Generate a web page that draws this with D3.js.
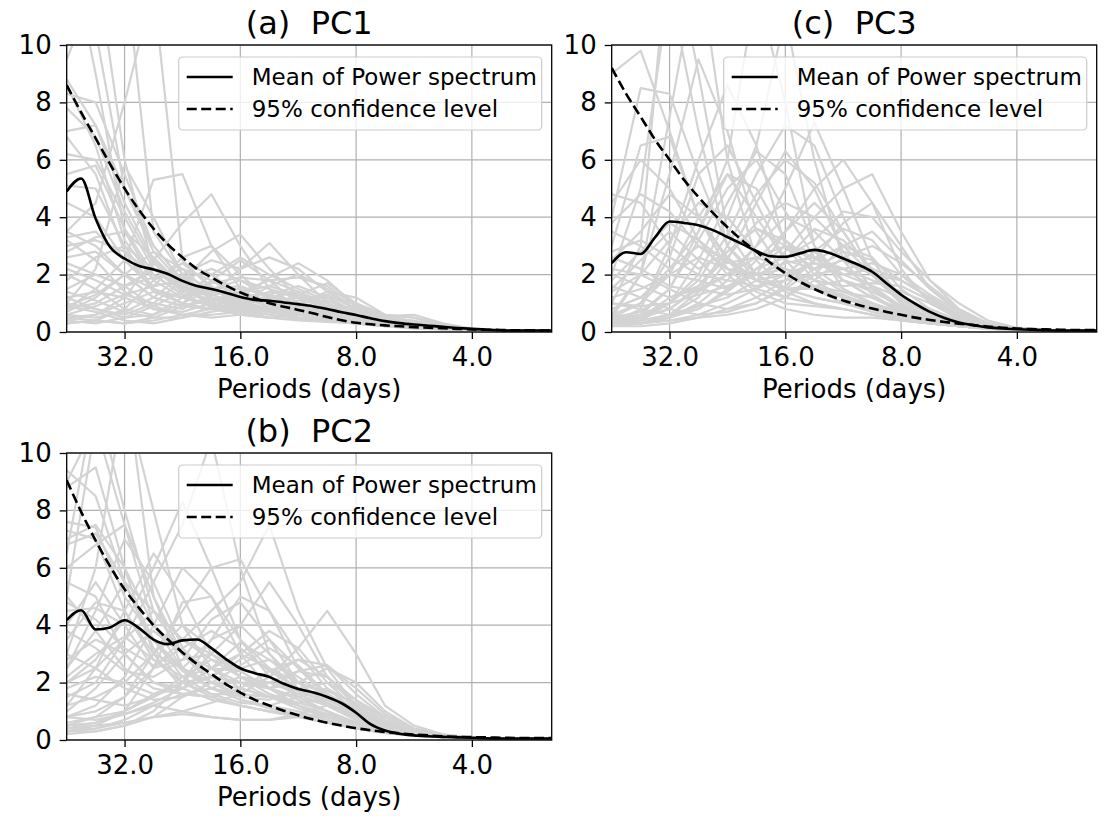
<!DOCTYPE html>
<html>
<head>
<meta charset="utf-8">
<script src="https://cdn.jsdelivr.net/npm/d3@7"></script>
<style>
  body { margin: 0; background: #fff; }
  text { font-family: "DejaVu Sans", sans-serif; fill: #000; }
</style>
</head>
<body>
<svg id="chart" width="1105" height="816"></svg>
<script>
// periods (days) of the smooth lines, eighth of an octave apart
var periodsFine = [45.25, 41.5, 38.05, 34.9, 32, 29.34, 26.91, 24.68, 22.63, 20.75, 19.03, 17.45, 16, 14.67, 13.45,
  12.34, 11.31, 10.37, 9.51, 8.72, 8, 7.34, 6.73, 6.17, 5.66, 5.19, 4.76, 4.36, 4, 3.67, 3.36, 3.08, 2.83, 2.59, 2.48];
// periods of the grey member spectra, quarter of an octave apart
var periodsCoarse = [45.25, 38.05, 32, 26.91, 22.63, 19.03, 16, 13.45, 11.31, 9.51, 8, 6.73, 5.66, 4.76, 4, 3.36, 2.83, 2.48];

var xTicks = [32, 16, 8, 4];
var yTicks = [0, 2, 4, 6, 8, 10];
var legendLabels = ["Mean of Power spectrum", "95% confidence level"];

// ---- PC1
var meanPC1 = [4.9, 5.35, 3.95, 2.96, 2.56, 2.3, 2.18, 2.02, 1.78, 1.6, 1.5, 1.37, 1.22, 1.12, 1.09, 1.03, 0.97, 0.9,
  0.8, 0.69, 0.59, 0.48, 0.38, 0.31, 0.26, 0.22, 0.18, 0.14, 0.11, 0.08, 0.06, 0.05, 0.05, 0.05, 0.05];
var confPC1 = [8.6, 7.65, 6.75, 5.85, 5.0, 4.25, 3.6, 3.05, 2.6, 2.2, 1.9, 1.62, 1.38, 1.18, 1.0, 0.88, 0.77, 0.65,
  0.52, 0.41, 0.32, 0.27, 0.23, 0.2, 0.17, 0.15, 0.13, 0.11, 0.09, 0.08, 0.07, 0.06, 0.06, 0.05, 0.05];
var spectraPC1 = [
  [14, 9, 3.5, 1.8, 1.2, 0.9, 0.7, 0.6, 0.5, 0.4, 0.3, 0.2, 0.15, 0.1, 0.06, 0.04, 0.03, 0.03],
  [12, 13, 6, 2.2, 1.5, 1.0, 0.8, 0.7, 0.6, 0.5, 0.35, 0.25, 0.15, 0.1, 0.06, 0.04, 0.03, 0.03],
  [8.8, 7.2, 4.5, 2.5, 1.6, 1.2, 0.9, 0.8, 0.7, 0.55, 0.4, 0.3, 0.2, 0.12, 0.07, 0.05, 0.04, 0.04],
  [8.6, 6.5, 3.2, 1.8, 2.4, 2.0, 1.3, 1.0, 0.9, 0.7, 0.5, 0.35, 0.2, 0.12, 0.07, 0.05, 0.04, 0.04],
  [7.0, 7.2, 5.0, 3.0, 1.8, 1.3, 1.0, 1.1, 1.2, 0.9, 0.6, 0.4, 0.25, 0.15, 0.08, 0.05, 0.04, 0.04],
  [6.2, 6.0, 4.0, 2.2, 1.4, 1.5, 1.2, 0.9, 0.7, 0.6, 0.4, 0.3, 0.2, 0.1, 0.06, 0.04, 0.03, 0.03],
  [5.1, 5.0, 3.0, 1.5, 1.0, 0.8, 0.9, 1.2, 1.4, 1.0, 0.6, 0.4, 0.25, 0.15, 0.08, 0.05, 0.04, 0.04],
  [3.3, 3.5, 2.5, 1.5, 1.2, 1.5, 1.6, 1.2, 0.8, 0.6, 0.45, 0.3, 0.2, 0.12, 0.07, 0.05, 0.04, 0.04],
  [3.0, 3.2, 2.8, 2.0, 1.3, 0.9, 0.8, 0.9, 1.1, 1.3, 0.8, 0.5, 0.3, 0.15, 0.08, 0.05, 0.04, 0.04],
  [1.0, 2.2, 5.8, 4.0, 2.0, 1.2, 0.8, 0.7, 0.8, 0.6, 0.4, 0.3, 0.2, 0.12, 0.07, 0.05, 0.04, 0.04],
  [0.8, 1.5, 2.5, 5.3, 5.5, 3.0, 1.5, 0.8, 0.6, 0.5, 0.4, 0.3, 0.2, 0.1, 0.06, 0.04, 0.03, 0.03],
  [0.5, 0.6, 1.2, 2.5, 3.8, 4.8, 3.0, 1.5, 0.9, 0.6, 0.4, 0.3, 0.2, 0.1, 0.06, 0.04, 0.03, 0.03],
  [1.2, 0.8, 0.6, 1.0, 1.8, 2.8, 3.4, 2.2, 1.2, 0.8, 0.5, 0.3, 0.2, 0.1, 0.06, 0.04, 0.03, 0.03],
  [0.6, 0.9, 1.3, 1.0, 0.8, 1.3, 2.2, 3.1, 2.0, 1.0, 0.5, 0.3, 0.2, 0.1, 0.06, 0.04, 0.03, 0.03],
  [2.0, 1.5, 0.8, 0.6, 1.2, 2.0, 2.6, 2.0, 1.5, 1.1, 0.7, 0.45, 0.3, 0.15, 0.08, 0.05, 0.04, 0.04],
  [0.4, 0.3, 0.5, 0.9, 1.4, 1.7, 1.9, 1.8, 1.9, 1.6, 0.9, 0.5, 0.3, 0.15, 0.08, 0.05, 0.04, 0.04],
  [0.3, 0.4, 0.8, 1.8, 2.4, 1.6, 0.8, 0.6, 1.0, 1.4, 1.2, 0.6, 0.35, 0.2, 0.1, 0.06, 0.05, 0.05],
  [0.9, 0.7, 0.4, 0.3, 0.5, 0.9, 1.2, 1.0, 0.7, 0.9, 0.8, 0.55, 0.6, 0.3, 0.12, 0.06, 0.05, 0.05],
  [1.5, 2.0, 1.6, 0.9, 0.6, 0.5, 0.6, 0.8, 1.3, 1.7, 1.0, 0.5, 0.3, 0.15, 0.08, 0.05, 0.04, 0.04],
  [2.6, 2.8, 2.0, 1.2, 0.9, 1.1, 1.4, 1.1, 0.8, 0.6, 0.5, 0.6, 0.5, 0.25, 0.1, 0.06, 0.05, 0.05],
  [0.8, 1.0, 1.6, 2.2, 1.9, 1.2, 0.9, 1.3, 1.6, 1.2, 0.7, 0.4, 0.25, 0.12, 0.07, 0.05, 0.04, 0.04],
  [4.5, 4.0, 2.5, 1.6, 1.8, 2.2, 1.8, 1.2, 0.9, 0.7, 0.5, 0.35, 0.2, 0.1, 0.06, 0.04, 0.03, 0.03],
  [1.8, 2.6, 3.0, 2.2, 1.5, 1.0, 0.7, 0.5, 0.4, 0.35, 0.3, 0.2, 0.15, 0.1, 0.06, 0.04, 0.03, 0.03],
  [0.3, 0.4, 0.3, 0.4, 0.6, 0.8, 1.1, 1.4, 1.3, 1.0, 0.6, 0.4, 0.25, 0.15, 0.08, 0.05, 0.04, 0.04],
  [6.8, 5.5, 2.8, 1.4, 1.0, 0.8, 0.6, 0.5, 0.45, 0.4, 0.3, 0.2, 0.12, 0.08, 0.05, 0.04, 0.03, 0.03],
  [9.5, 12, 13, 3.5, 2.0, 1.5, 1.1, 0.8, 0.6, 0.5, 0.4, 0.3, 0.2, 0.1, 0.06, 0.04, 0.03, 0.03],
  [3.5, 4.5, 8.0, 12, 2.5, 1.5, 1.0, 0.8, 0.7, 0.5, 0.4, 0.3, 0.2, 0.1, 0.06, 0.04, 0.03, 0.03],
  [0.6, 0.5, 0.7, 1.2, 2.0, 2.5, 2.2, 2.6, 2.2, 1.4, 0.8, 0.4, 0.25, 0.12, 0.07, 0.05, 0.04, 0.04],
  [1.2, 1.4, 1.2, 0.8, 0.6, 0.6, 0.7, 0.9, 1.0, 0.8, 0.55, 0.35, 0.25, 0.12, 0.07, 0.05, 0.04, 0.04],
  [2.2, 1.8, 1.3, 1.6, 2.6, 3.0, 2.0, 1.1, 0.7, 0.5, 0.35, 0.25, 0.15, 0.1, 0.06, 0.04, 0.03, 0.03],
  [7.8, 6.8, 4.2, 2.4, 1.5, 1.1, 0.9, 0.8, 0.7, 0.5, 0.35, 0.25, 0.15, 0.1, 0.06, 0.04, 0.03, 0.03],
  [8.3, 8.0, 5.5, 3.0, 1.8, 1.2, 1.0, 1.2, 1.0, 0.7, 0.45, 0.3, 0.2, 0.1, 0.06, 0.04, 0.03, 0.03],
  [3.5, 3.0, 2.0, 1.2, 0.9, 0.8, 1.0, 1.6, 2.0, 1.5, 0.8, 0.4, 0.25, 0.12, 0.07, 0.05, 0.04, 0.04],
  [3.2, 2.5, 1.4, 0.8, 0.7, 1.0, 1.4, 1.6, 1.3, 0.9, 0.6, 0.5, 0.4, 0.2, 0.08, 0.05, 0.04, 0.04],
  [1.0, 0.8, 0.5, 0.6, 1.0, 1.5, 1.8, 1.5, 1.2, 1.2, 1.0, 0.6, 0.35, 0.15, 0.08, 0.05, 0.04, 0.04],
  [0.5, 0.4, 0.3, 0.5, 0.9, 1.2, 1.0, 0.7, 0.6, 0.8, 0.9, 0.6, 0.5, 0.25, 0.1, 0.05, 0.04, 0.04],
  [2.4, 2.0, 1.6, 1.9, 2.2, 1.8, 1.2, 0.9, 1.0, 1.1, 0.7, 0.4, 0.25, 0.12, 0.07, 0.05, 0.04, 0.04],
  [0.7, 1.2, 2.0, 2.8, 2.2, 1.3, 1.4, 1.8, 1.4, 0.9, 0.6, 0.45, 0.3, 0.15, 0.08, 0.05, 0.04, 0.04],
  [5.5, 5.8, 3.6, 2.0, 1.3, 1.4, 1.5, 1.3, 1.0, 0.8, 0.5, 0.3, 0.2, 0.1, 0.06, 0.04, 0.03, 0.03],
  [0.4, 0.6, 1.0, 1.4, 1.2, 0.9, 1.2, 1.9, 2.4, 1.8, 0.9, 0.5, 0.3, 0.15, 0.08, 0.05, 0.04, 0.04],
  [1.4, 1.1, 0.7, 0.5, 0.5, 0.7, 0.9, 0.7, 0.5, 0.5, 0.6, 0.5, 0.35, 0.15, 0.07, 0.05, 0.04, 0.04],
  [2.8, 3.3, 3.5, 2.6, 1.6, 0.9, 0.6, 0.5, 0.6, 0.7, 0.5, 0.3, 0.2, 0.1, 0.06, 0.04, 0.03, 0.03],
  [0.9, 1.3, 2.0, 1.5, 1.0, 1.8, 2.5, 1.8, 1.0, 0.7, 0.45, 0.3, 0.2, 0.1, 0.06, 0.04, 0.03, 0.03],
  [11, 10.5, 5.0, 2.8, 1.7, 1.2, 0.9, 0.7, 0.6, 0.45, 0.3, 0.2, 0.15, 0.1, 0.06, 0.04, 0.03, 0.03]
];

// ---- PC2
var meanPC2 = [4.18, 4.52, 3.85, 3.92, 4.17, 3.9, 3.5, 3.34, 3.47, 3.5, 3.2, 2.82, 2.5, 2.33, 2.2, 1.96, 1.78, 1.66,
  1.5, 1.28, 0.95, 0.55, 0.33, 0.22, 0.16, 0.13, 0.11, 0.09, 0.08, 0.06, 0.05, 0.05, 0.05, 0.05, 0.05];
var confPC2 = [9.05, 7.95, 6.95, 6.05, 5.25, 4.6, 4.0, 3.5, 3.05, 2.65, 2.3, 1.95, 1.65, 1.4, 1.2, 1.02, 0.86, 0.72,
  0.6, 0.5, 0.41, 0.34, 0.28, 0.23, 0.19, 0.16, 0.13, 0.11, 0.1, 0.09, 0.08, 0.07, 0.07, 0.07, 0.07];
var spectraPC2 = [
  [9.4, 8.5, 5.5, 3.2, 2.0, 1.5, 1.2, 1.0, 0.8, 0.6, 0.4, 0.25, 0.15, 0.1, 0.07, 0.05, 0.05, 0.05],
  [7.6, 7.4, 5.0, 3.5, 2.5, 1.8, 1.4, 1.2, 1.0, 0.7, 0.4, 0.25, 0.15, 0.1, 0.07, 0.05, 0.05, 0.05],
  [7.0, 7.5, 6.0, 4.0, 3.0, 2.5, 2.0, 1.5, 1.1, 0.8, 0.5, 0.3, 0.18, 0.1, 0.07, 0.05, 0.05, 0.05],
  [5.0, 11, 13, 5.0, 2.5, 1.8, 1.4, 1.1, 0.9, 0.7, 0.4, 0.25, 0.15, 0.1, 0.07, 0.05, 0.05, 0.05],
  [3.0, 6.0, 12, 8.0, 4.0, 2.5, 1.8, 1.5, 1.2, 0.8, 0.5, 0.3, 0.18, 0.1, 0.07, 0.05, 0.05, 0.05],
  [6.5, 12, 8.0, 4.5, 3.5, 3.0, 2.2, 1.6, 1.2, 0.8, 0.5, 0.3, 0.18, 0.1, 0.07, 0.05, 0.05, 0.05],
  [4.5, 4.6, 4.0, 6.0, 8.3, 6.0, 3.5, 2.2, 1.5, 1.0, 0.6, 0.35, 0.2, 0.1, 0.07, 0.05, 0.05, 0.05],
  [2.0, 2.5, 3.5, 5.5, 7.5, 10.5, 6.0, 3.0, 1.8, 1.2, 0.7, 0.4, 0.2, 0.1, 0.07, 0.05, 0.05, 0.05],
  [1.2, 1.5, 2.0, 3.0, 4.5, 6.0, 6.3, 4.5, 2.5, 1.5, 0.8, 0.45, 0.25, 0.12, 0.07, 0.05, 0.05, 0.05],
  [0.8, 1.0, 1.5, 2.5, 3.5, 4.5, 5.5, 7.5, 4.5, 2.5, 1.2, 0.6, 0.3, 0.15, 0.08, 0.05, 0.05, 0.05],
  [0.5, 0.6, 1.0, 1.5, 2.0, 3.0, 4.0, 5.5, 4.0, 2.2, 1.2, 0.6, 0.3, 0.15, 0.08, 0.05, 0.05, 0.05],
  [0.3, 0.4, 0.6, 0.8, 1.0, 1.3, 1.6, 2.2, 3.2, 4.5, 3.0, 1.2, 0.5, 0.2, 0.08, 0.05, 0.05, 0.05],
  [0.6, 0.8, 1.0, 1.6, 2.0, 2.2, 2.0, 2.0, 2.4, 2.6, 1.8, 0.9, 0.4, 0.2, 0.08, 0.05, 0.05, 0.05],
  [2.5, 4.5, 7.0, 5.5, 3.2, 2.2, 2.0, 1.8, 1.4, 1.0, 0.6, 0.35, 0.2, 0.1, 0.07, 0.05, 0.05, 0.05],
  [3.5, 4.8, 4.5, 3.0, 2.5, 3.5, 4.0, 3.0, 2.0, 1.3, 0.8, 0.45, 0.25, 0.12, 0.07, 0.05, 0.05, 0.05],
  [1.5, 2.0, 3.5, 4.5, 3.5, 2.8, 2.5, 2.8, 2.2, 1.5, 0.9, 0.5, 0.25, 0.12, 0.07, 0.05, 0.05, 0.05],
  [0.2, 0.3, 0.5, 1.0, 2.0, 3.5, 5.0, 4.5, 3.0, 1.8, 1.0, 0.5, 0.25, 0.12, 0.07, 0.05, 0.05, 0.05],
  [0.3, 0.5, 1.0, 2.5, 4.8, 5.0, 3.5, 2.5, 2.0, 1.6, 1.0, 0.5, 0.25, 0.12, 0.07, 0.05, 0.05, 0.05],
  [5.5, 5.0, 3.0, 2.0, 1.6, 1.8, 2.2, 2.0, 1.6, 1.2, 0.8, 0.4, 0.22, 0.12, 0.07, 0.05, 0.05, 0.05],
  [3.0, 2.5, 1.8, 1.4, 1.5, 2.0, 2.6, 3.2, 2.6, 1.6, 0.9, 0.45, 0.22, 0.12, 0.07, 0.05, 0.05, 0.05],
  [0.4, 0.6, 0.9, 1.2, 1.0, 0.8, 0.7, 0.7, 0.8, 0.9, 0.6, 0.35, 0.2, 0.1, 0.07, 0.05, 0.05, 0.05],
  [1.0, 1.8, 3.0, 3.8, 3.0, 2.0, 1.5, 1.4, 1.8, 2.0, 1.4, 0.8, 0.35, 0.15, 0.08, 0.05, 0.05, 0.05],
  [2.2, 3.0, 3.6, 2.8, 2.0, 1.6, 1.6, 2.2, 2.8, 2.2, 1.2, 0.6, 0.3, 0.15, 0.08, 0.05, 0.05, 0.05],
  [4.0, 5.5, 4.0, 2.5, 2.8, 4.2, 4.8, 3.5, 2.0, 1.2, 0.7, 0.4, 0.22, 0.12, 0.07, 0.05, 0.05, 0.05],
  [0.8, 1.2, 2.2, 4.0, 6.0, 5.0, 3.0, 1.8, 1.2, 0.9, 0.6, 0.35, 0.2, 0.1, 0.07, 0.05, 0.05, 0.05],
  [6.8, 7.2, 5.5, 3.5, 2.2, 1.6, 1.3, 1.2, 1.5, 1.8, 1.2, 0.6, 0.3, 0.15, 0.08, 0.05, 0.05, 0.05],
  [1.8, 2.2, 2.0, 1.6, 1.8, 2.5, 3.0, 2.5, 1.8, 1.4, 1.0, 0.6, 0.3, 0.15, 0.08, 0.05, 0.05, 0.05],
  [0.3, 0.3, 0.5, 0.8, 1.5, 2.0, 2.0, 1.8, 2.4, 2.2, 1.4, 0.7, 0.3, 0.15, 0.08, 0.05, 0.05, 0.05],
  [8.8, 9.5, 6.0, 3.0, 1.8, 1.4, 1.2, 1.0, 0.8, 0.6, 0.4, 0.25, 0.15, 0.1, 0.07, 0.05, 0.05, 0.05],
  [2.5, 3.8, 5.5, 4.5, 3.0, 2.2, 2.8, 3.5, 2.5, 1.5, 0.8, 0.4, 0.22, 0.12, 0.07, 0.05, 0.05, 0.05],
  [7.3, 7.0, 4.5, 2.8, 2.2, 2.5, 2.4, 1.8, 1.2, 0.8, 0.5, 0.3, 0.18, 0.1, 0.07, 0.05, 0.05, 0.05],
  [6.0, 6.8, 7.5, 5.0, 3.0, 2.0, 1.6, 1.5, 1.3, 1.0, 0.6, 0.35, 0.2, 0.1, 0.07, 0.05, 0.05, 0.05],
  [2.8, 3.5, 3.0, 2.0, 1.8, 2.5, 3.4, 2.8, 2.0, 1.6, 1.1, 0.6, 0.3, 0.15, 0.08, 0.05, 0.05, 0.05],
  [1.6, 1.4, 1.2, 1.5, 2.2, 2.8, 2.2, 1.8, 2.0, 2.5, 2.0, 1.0, 0.4, 0.18, 0.08, 0.05, 0.05, 0.05],
  [0.5, 0.8, 1.5, 3.0, 4.0, 3.2, 2.2, 1.6, 1.3, 1.4, 1.0, 0.5, 0.25, 0.12, 0.07, 0.05, 0.05, 0.05],
  [3.8, 3.2, 2.4, 2.2, 2.8, 3.0, 2.4, 1.8, 1.5, 1.2, 0.8, 0.45, 0.22, 0.12, 0.07, 0.05, 0.05, 0.05],
  [0.3, 0.4, 0.7, 1.2, 1.6, 1.5, 1.2, 1.0, 0.9, 0.8, 0.6, 0.35, 0.2, 0.1, 0.07, 0.05, 0.05, 0.05],
  [1.2, 2.5, 4.5, 6.5, 5.0, 3.0, 2.2, 2.0, 1.7, 1.3, 0.8, 0.4, 0.22, 0.12, 0.07, 0.05, 0.05, 0.05],
  [4.8, 4.2, 3.2, 2.6, 3.2, 3.8, 3.2, 2.4, 1.8, 1.4, 0.9, 0.5, 0.25, 0.12, 0.07, 0.05, 0.05, 0.05],
  [0.8, 0.7, 0.9, 1.3, 1.8, 2.2, 3.0, 3.8, 3.2, 2.0, 1.1, 0.55, 0.28, 0.14, 0.08, 0.05, 0.05, 0.05],
  [2.0, 2.8, 4.2, 3.5, 2.4, 1.8, 1.6, 1.5, 1.6, 1.7, 1.3, 0.7, 0.3, 0.15, 0.08, 0.05, 0.05, 0.05],
  [9.0, 11, 7.5, 4.0, 2.5, 2.0, 1.8, 1.5, 1.2, 0.9, 0.5, 0.3, 0.18, 0.1, 0.07, 0.05, 0.05, 0.05],
  [0.4, 0.5, 0.6, 0.8, 0.9, 0.8, 0.7, 0.7, 0.9, 1.2, 1.0, 0.55, 0.25, 0.12, 0.07, 0.05, 0.05, 0.05],
  [5.0, 3.8, 2.5, 1.8, 1.6, 1.5, 1.8, 2.4, 2.8, 2.6, 1.6, 0.8, 0.35, 0.15, 0.08, 0.05, 0.05, 0.05]
];

// ---- PC3
var meanPC3 = [2.4, 2.78, 2.72, 3.3, 3.85, 3.8, 3.72, 3.55, 3.31, 3.07, 2.82, 2.64, 2.62, 2.74, 2.86, 2.76, 2.56, 2.35,
  2.1, 1.69, 1.3, 0.98, 0.7, 0.49, 0.33, 0.24, 0.16, 0.12, 0.1, 0.08, 0.06, 0.05, 0.05, 0.05, 0.05];
var confPC3 = [9.2, 8.3, 7.5, 6.7, 6.0, 5.3, 4.7, 4.15, 3.65, 3.2, 2.8, 2.4, 2.05, 1.75, 1.5, 1.28, 1.1, 0.95,
  0.82, 0.7, 0.6, 0.5, 0.42, 0.35, 0.29, 0.24, 0.19, 0.15, 0.12, 0.1, 0.09, 0.08, 0.07, 0.07, 0.07];
var spectraPC3 = [
  [9.0, 9.8, 7.0, 4.0, 2.5, 1.8, 1.2, 1.0, 0.8, 0.6, 0.4, 0.3, 0.2, 0.12, 0.08, 0.06, 0.05, 0.05],
  [4.0, 8.5, 8.3, 5.5, 3.0, 2.0, 1.5, 1.2, 1.0, 0.8, 0.5, 0.3, 0.2, 0.12, 0.08, 0.06, 0.05, 0.05],
  [2.0, 5.0, 12, 7.0, 3.0, 1.8, 1.5, 1.5, 1.3, 0.9, 0.6, 0.4, 0.25, 0.15, 0.08, 0.06, 0.05, 0.05],
  [1.0, 3.0, 14, 9.0, 3.5, 2.0, 1.4, 1.0, 0.8, 0.6, 0.4, 0.3, 0.2, 0.12, 0.08, 0.06, 0.05, 0.05],
  [0.5, 2.0, 7.5, 13, 6.0, 2.5, 1.5, 1.2, 1.0, 0.8, 0.5, 0.3, 0.2, 0.12, 0.08, 0.06, 0.05, 0.05],
  [0.3, 0.8, 3.0, 6.0, 8.6, 6.5, 3.0, 1.8, 1.2, 0.8, 0.5, 0.3, 0.2, 0.12, 0.08, 0.06, 0.05, 0.05],
  [0.5, 0.6, 1.5, 3.5, 6.0, 12, 8.0, 3.0, 1.5, 1.0, 0.6, 0.35, 0.2, 0.12, 0.08, 0.06, 0.05, 0.05],
  [0.4, 0.5, 1.0, 2.0, 4.0, 6.5, 11, 6.0, 2.5, 1.3, 0.7, 0.4, 0.25, 0.15, 0.08, 0.06, 0.05, 0.05],
  [0.3, 0.4, 0.6, 1.2, 2.5, 4.5, 6.3, 5.0, 2.8, 1.5, 0.8, 0.45, 0.25, 0.15, 0.08, 0.06, 0.05, 0.05],
  [0.6, 0.5, 0.8, 1.5, 2.0, 3.0, 5.0, 7.3, 5.0, 2.5, 1.2, 0.6, 0.3, 0.15, 0.08, 0.06, 0.05, 0.05],
  [0.3, 0.3, 0.5, 0.8, 1.5, 2.5, 3.5, 5.0, 6.0, 4.5, 2.2, 1.0, 0.45, 0.2, 0.1, 0.06, 0.05, 0.05],
  [0.5, 0.4, 0.6, 0.9, 1.2, 1.8, 2.8, 4.0, 5.0, 5.5, 3.5, 1.8, 0.8, 0.3, 0.12, 0.07, 0.05, 0.05],
  [1.0, 0.8, 0.6, 0.8, 1.4, 2.2, 2.6, 3.2, 4.2, 4.0, 2.8, 1.8, 1.0, 0.4, 0.15, 0.08, 0.06, 0.05],
  [2.5, 3.5, 4.8, 4.0, 2.6, 1.8, 1.5, 1.6, 1.8, 1.5, 0.9, 0.5, 0.3, 0.15, 0.08, 0.06, 0.05, 0.05],
  [4.8, 4.5, 3.0, 2.2, 2.8, 3.6, 3.0, 2.2, 1.5, 1.0, 0.6, 0.4, 0.25, 0.15, 0.08, 0.06, 0.05, 0.05],
  [3.5, 3.0, 2.2, 3.5, 5.5, 5.0, 3.2, 2.0, 1.4, 1.0, 0.6, 0.35, 0.2, 0.12, 0.08, 0.06, 0.05, 0.05],
  [1.5, 2.5, 3.5, 2.5, 1.5, 2.0, 3.5, 4.5, 3.5, 2.0, 1.0, 0.5, 0.25, 0.15, 0.08, 0.06, 0.05, 0.05],
  [0.3, 0.4, 1.0, 2.5, 4.5, 6.3, 5.5, 3.0, 1.8, 1.2, 0.7, 0.4, 0.25, 0.15, 0.08, 0.06, 0.05, 0.05],
  [0.8, 1.2, 2.2, 3.0, 2.5, 1.5, 1.2, 2.0, 3.0, 3.5, 2.5, 1.5, 0.7, 0.3, 0.12, 0.07, 0.05, 0.05],
  [0.2, 0.3, 0.5, 1.0, 1.8, 3.0, 4.0, 3.5, 2.5, 2.0, 1.8, 1.2, 0.6, 0.25, 0.1, 0.06, 0.05, 0.05],
  [2.2, 2.0, 1.5, 1.0, 0.8, 1.0, 1.6, 2.5, 3.0, 2.6, 1.5, 0.8, 0.4, 0.2, 0.1, 0.06, 0.05, 0.05],
  [0.4, 0.3, 0.4, 0.6, 1.0, 1.5, 2.0, 2.4, 2.2, 1.8, 1.4, 1.0, 0.5, 0.2, 0.1, 0.06, 0.05, 0.05],
  [1.8, 2.8, 3.8, 3.2, 2.0, 1.2, 0.8, 0.6, 0.5, 0.5, 0.4, 0.3, 0.2, 0.1, 0.07, 0.05, 0.05, 0.05],
  [3.0, 6.5, 6.8, 4.0, 2.2, 1.4, 1.0, 0.9, 0.8, 0.6, 0.4, 0.3, 0.2, 0.12, 0.08, 0.06, 0.05, 0.05],
  [0.5, 1.0, 2.0, 4.0, 5.5, 4.0, 2.5, 2.2, 2.5, 2.0, 1.1, 0.6, 0.3, 0.15, 0.08, 0.06, 0.05, 0.05],
  [0.3, 0.5, 1.2, 1.5, 1.3, 1.5, 2.5, 3.6, 3.2, 2.2, 1.3, 0.7, 0.35, 0.15, 0.08, 0.06, 0.05, 0.05],
  [1.2, 1.5, 2.0, 1.8, 1.5, 2.2, 3.0, 2.8, 2.0, 1.6, 1.2, 0.8, 0.4, 0.2, 0.1, 0.06, 0.05, 0.05],
  [0.2, 0.2, 0.3, 0.5, 0.8, 1.2, 1.8, 2.5, 3.8, 4.5, 3.0, 1.5, 0.7, 0.3, 0.12, 0.07, 0.05, 0.05],
  [2.6, 2.2, 1.6, 1.4, 2.0, 2.6, 2.2, 1.6, 1.2, 1.0, 0.7, 0.5, 0.3, 0.15, 0.08, 0.06, 0.05, 0.05],
  [0.6, 1.0, 2.6, 5.5, 6.5, 4.5, 2.5, 1.5, 1.0, 0.7, 0.45, 0.3, 0.2, 0.12, 0.08, 0.06, 0.05, 0.05],
  [3.8, 4.8, 4.2, 3.0, 2.2, 2.0, 2.4, 2.6, 2.2, 1.6, 0.9, 0.5, 0.3, 0.15, 0.08, 0.06, 0.05, 0.05],
  [0.4, 0.5, 0.8, 1.6, 2.8, 3.6, 3.2, 2.4, 2.0, 2.2, 1.8, 1.2, 0.6, 0.25, 0.1, 0.06, 0.05, 0.05],
  [1.4, 2.0, 3.2, 4.5, 4.0, 2.8, 2.0, 1.6, 1.4, 1.2, 0.8, 0.5, 0.3, 0.15, 0.08, 0.06, 0.05, 0.05],
  [0.3, 0.3, 0.4, 0.5, 0.6, 0.8, 1.2, 1.8, 2.6, 3.0, 2.4, 1.6, 0.8, 0.3, 0.12, 0.07, 0.05, 0.05],
  [2.0, 1.6, 1.2, 1.6, 2.6, 3.8, 4.5, 4.0, 3.0, 2.0, 1.2, 0.6, 0.3, 0.15, 0.08, 0.06, 0.05, 0.05],
  [0.8, 1.2, 2.0, 2.6, 2.2, 1.8, 2.0, 2.8, 3.6, 3.2, 2.0, 1.1, 0.5, 0.2, 0.1, 0.06, 0.05, 0.05],
  [4.5, 6.0, 5.0, 3.2, 2.4, 2.6, 3.0, 2.6, 1.8, 1.2, 0.8, 0.5, 0.3, 0.15, 0.08, 0.06, 0.05, 0.05],
  [0.5, 0.7, 1.5, 3.2, 5.0, 6.0, 4.2, 2.6, 1.8, 1.4, 0.9, 0.5, 0.3, 0.15, 0.08, 0.06, 0.05, 0.05],
  [1.6, 1.2, 0.8, 0.6, 0.7, 1.0, 1.5, 2.2, 2.8, 2.5, 1.8, 1.2, 0.6, 0.25, 0.1, 0.06, 0.05, 0.05],
  [0.2, 0.3, 0.6, 1.4, 3.0, 4.8, 6.0, 5.2, 3.5, 2.0, 1.0, 0.5, 0.25, 0.12, 0.08, 0.06, 0.05, 0.05],
  [2.8, 3.2, 2.6, 2.0, 1.8, 1.6, 1.8, 2.0, 2.2, 2.4, 2.0, 1.3, 0.7, 0.3, 0.12, 0.07, 0.05, 0.05],
  [0.6, 2.0, 5.5, 9.5, 7.0, 3.5, 2.0, 1.5, 1.2, 0.9, 0.55, 0.35, 0.2, 0.12, 0.08, 0.06, 0.05, 0.05],
  [1.0, 0.9, 1.0, 1.3, 1.6, 2.0, 2.2, 1.8, 1.6, 1.7, 1.6, 1.1, 0.55, 0.22, 0.1, 0.06, 0.05, 0.05],
  [0.4, 0.6, 1.0, 1.8, 3.4, 5.5, 7.2, 6.5, 4.0, 2.0, 1.0, 0.5, 0.25, 0.12, 0.08, 0.06, 0.05, 0.05]
];

var W = 485, H = 287;
var svg = d3.select("#chart");

svg.append("rect").attr("width", 1105).attr("height", 816).attr("fill", "#fff");

// period axis is logarithmic, long periods on the left
var x = d3.scaleLog().domain([45.25, 2.48]).range([0, W]);
var y = d3.scaleLinear().domain([0, 10]).range([H, 0]);

function drawPanel(left, top, title, spectra, mean, conf, id) {
  var g = svg.append("g").attr("transform", "translate(" + left + "," + top + ")");

  g.append("clipPath").attr("id", "clip" + id)
    .append("rect").attr("width", W).attr("height", H);

  // grid
  g.selectAll(".gx").data(xTicks).enter().append("line")
    .attr("x1", function(d) { return x(d); }).attr("x2", function(d) { return x(d); })
    .attr("y1", 0).attr("y2", H)
    .attr("stroke", "#b0b0b0").attr("stroke-width", 1.2);
  g.selectAll(".gy").data(yTicks).enter().append("line")
    .attr("x1", 0).attr("x2", W)
    .attr("y1", function(d) { return y(d); }).attr("y2", function(d) { return y(d); })
    .attr("stroke", "#b0b0b0").attr("stroke-width", 1.2);

  var plot = g.append("g").attr("clip-path", "url(#clip" + id + ")");

  var coarseLine = d3.line()
    .x(function(d, i) { return x(periodsCoarse[i]); })
    .y(function(d) { return y(d); });
  var fineLine = d3.line()
    .x(function(d, i) { return x(periodsFine[i]); })
    .y(function(d) { return y(d); })
    .curve(d3.curveMonotoneX);

  plot.selectAll(".member").data(spectra).enter().append("path")
    .attr("d", coarseLine)
    .attr("fill", "none")
    .attr("stroke", "#d3d3d3")
    .attr("stroke-width", 2.2)
    .attr("stroke-linejoin", "round");

  plot.append("path").attr("d", fineLine(mean))
    .attr("fill", "none").attr("stroke", "#000").attr("stroke-width", 2.6);
  plot.append("path").attr("d", fineLine(conf))
    .attr("fill", "none").attr("stroke", "#000").attr("stroke-width", 2.6)
    .attr("stroke-dasharray", "10,4.5");

  // axes
  var xAxis = g.append("g").attr("transform", "translate(0," + H + ")")
    .call(d3.axisBottom(x).tickValues(xTicks).tickFormat(d3.format(".1f"))
      .tickSize(7).tickSizeOuter(0).tickPadding(9));
  var yAxis = g.append("g")
    .call(d3.axisLeft(y).tickValues(yTicks).tickFormat(d3.format("d"))
      .tickSize(7).tickSizeOuter(0).tickPadding(8));
  [xAxis, yAxis].forEach(function(a) {
    a.select(".domain").remove();
    a.selectAll("line").attr("stroke", "#000").attr("stroke-width", 1.3);
    a.selectAll("text").style("font-size", "26px").style("font-family", "DejaVu Sans");
  });

  g.append("rect").attr("width", W).attr("height", H)
    .attr("fill", "none").attr("stroke", "#000").attr("stroke-width", 1.3);

  g.append("text")
    .text("Periods (days)")
    .attr("x", W / 2).attr("y", H + 66)
    .attr("text-anchor", "middle")
    .style("font-size", "26px");

  g.append("text")
    .text(title)
    .attr("x", W / 2).attr("y", -11)
    .attr("text-anchor", "middle")
    .style("font-size", "32px")
    .style("white-space", "pre")
    .attr("xml:space", "preserve");

  // legend
  var lg = g.append("g").attr("transform", "translate(" + (W - 10 - 363) + ",12)");
  lg.append("rect").attr("width", 363).attr("height", 73).attr("rx", 4)
    .attr("fill", "#fff").attr("fill-opacity", 0.8)
    .attr("stroke", "#cccccc").attr("stroke-width", 1.2);
  legendLabels.forEach(function(lab, i) {
    var ly = 20 + i * 32;
    lg.append("line").attr("x1", 8).attr("x2", 54).attr("y1", ly).attr("y2", ly)
      .attr("stroke", "#000").attr("stroke-width", 2.6)
      .attr("stroke-dasharray", i === 1 ? "10,4.5" : null);
    lg.append("text").text(lab)
      .attr("x", 73).attr("y", ly + 8)
      .style("font-size", "23px");
  });
}

drawPanel(66.7, 45, "(a)  PC1", spectraPC1, meanPC1, confPC1, "a");
drawPanel(611.7, 45, "(c)  PC3", spectraPC3, meanPC3, confPC3, "c");
drawPanel(66.7, 453, "(b)  PC2", spectraPC2, meanPC2, confPC2, "b");
</script>
</body>
</html>
